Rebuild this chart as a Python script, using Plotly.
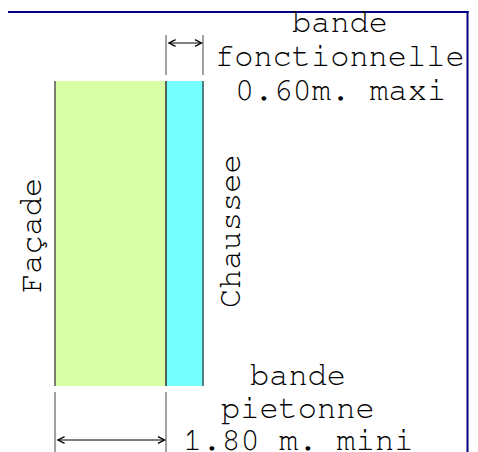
import plotly.graph_objects as go

# ---- data ----
band_names = ["bande pietonne", "bande fonctionnelle"]
band_widths = [1.80, 0.60]          # metres
band_colors = ["#d8ffa6", "#76ffff"]
side_labels = ["Façade", "Chaussee"]
top_label_lines = ["bande", "fonctionnelle", "0.60m. maxi"]
bottom_label_lines = ["bande", "pietonne", "1.80 m. mini"]

# ---- layout constants ----
W, H = 470, 452
OFF = 8                      # page body margin
PX_PER_M = 61.67
X0_PX = 55 - OFF
xr = [-X0_PX / PX_PER_M, (W - X0_PX) / PX_PER_M]
band_top, band_bottom = 81 - OFF, 386 - OFF
FONT = dict(family="Nimbus Mono PS, FreeMono, Liberation Mono, Courier New, monospace",
            size=32, color="black")


def px2x(p):
    return (p - OFF - X0_PX) / PX_PER_M


def py(p):
    return p - OFF


edges = [0.0]
for w in band_widths:
    edges.append(edges[-1] + w)

fig = go.Figure()
fig.add_trace(go.Scatter(x=[None], y=[None], showlegend=False, hoverinfo="skip"))

shapes = []
for i, (w, c) in enumerate(zip(band_widths, band_colors)):
    shapes.append(dict(type="rect", xref="x", yref="y", x0=edges[i], x1=edges[i + 1],
                       y0=band_top, y1=band_bottom, fillcolor=c, line=dict(width=0), layer="below"))
edge_colors = ["#555555", "#333333", "#335555"]
for e, ec in zip(edges, edge_colors):
    shapes.append(dict(type="line", xref="x", yref="y", x0=e, x1=e, y0=band_top, y1=band_bottom,
                       line=dict(color=ec, width=1.5)))
for e in edges[1:3]:
    shapes.append(dict(type="line", xref="x", yref="y", x0=e, x1=e, y0=py(35), y1=py(75),
                       line=dict(color="#444444", width=1)))
for e in edges[0:2]:
    shapes.append(dict(type="line", xref="x", yref="y", x0=e, x1=e, y0=py(392), y1=py(470),
                       line=dict(color="#444444", width=1)))

# navy frame
shapes.append(dict(type="line", xref="x", yref="y", x0=xr[0] - 1, x1=px2x(468.5),
                   y0=py(12), y1=py(12), line=dict(color="#000080", width=2)))
shapes.append(dict(type="rect", xref="x", yref="y", x0=px2x(466.5), x1=px2x(468.5),
                   y0=py(11), y1=py(470), fillcolor="#000080", line=dict(width=0)))

annotations = []
for (a, b, yy) in [(edges[1], edges[2], py(43)), (edges[0], edges[1], py(440))]:
    annotations.append(dict(x=b, y=yy, ax=a, ay=yy, xref="x", yref="y", axref="x", ayref="y",
                            text="", showarrow=True, arrowhead=5, startarrowhead=5,
                            arrowside="end+start", arrowsize=1.3, startarrowsize=1.3,
                            arrowwidth=1, arrowcolor="black", standoff=0, startstandoff=0))
for line, yy in zip(top_label_lines, [22, 56, 90]):
    annotations.append(dict(x=px2x(340), y=py(yy), xref="x", yref="y", text=line, showarrow=False,
                            font=FONT, xanchor="center", yanchor="middle"))
for line, yy in zip(bottom_label_lines, [375, 408, 440]):
    annotations.append(dict(x=px2x(298), y=py(yy), xref="x", yref="y", text=line, showarrow=False,
                            font=FONT, xanchor="center", yanchor="middle"))
annotations.append(dict(x=px2x(31), y=py(236), xref="x", yref="y", text=side_labels[0],
                        showarrow=False, font=FONT, textangle=-90))
annotations.append(dict(x=px2x(230), y=py(231), xref="x", yref="y", text=side_labels[1],
                        showarrow=False, font=FONT, textangle=-90))

fig.update_layout(
    width=W, height=H, margin=dict(l=0, r=0, t=0, b=0),
    paper_bgcolor="white", plot_bgcolor="white",
    xaxis=dict(range=xr, visible=False, fixedrange=True),
    yaxis=dict(range=[H, 0], visible=False, fixedrange=True),
    shapes=shapes, annotations=annotations, showlegend=False,
)
fig.write_html("out.html")
